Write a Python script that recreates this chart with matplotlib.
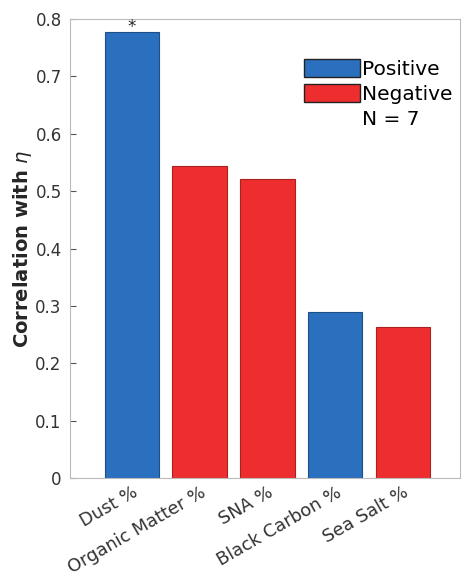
import numpy as np
import matplotlib.pyplot as plt
from matplotlib.patches import Patch

# datos de las barras
categorias = ["Dust %", "Organic Matter %", "SNA %", "Black Carbon %", "Sea Salt %"]
correlacion = [0.777, 0.544, 0.522, 0.290, 0.263]
signo = ["Positive", "Negative", "Negative", "Positive", "Negative"]
significativo = [True, False, False, False, False]

azul = "#2a70bf"
rojo = "#ee2e2e"
colores = {"Positive": azul, "Negative": rojo}

fig = plt.figure(figsize=(4.63, 5.77), dpi=100)
ax = fig.add_axes([70 / 463, 1 - 478 / 577, 390 / 463, 459 / 577])

x = np.arange(1, len(categorias) + 1)
ax.bar(x, correlacion, width=0.8,
       color=[colores[s] for s in signo],
       edgecolor=["#1d4f88" if s == "Positive" else "#a82020" for s in signo],
       linewidth=0.8, zorder=2)

for xi, yi, sig in zip(x, correlacion, significativo):
    if sig:
        ax.text(xi, yi - 0.006, "*", ha="center", va="bottom", fontsize=12, color="#222222")

ax.set_xlim(0.09, 5.84)
ax.set_ylim(0, 0.8)
ax.set_yticks(np.arange(0, 0.81, 0.1))
ax.set_yticklabels(["0"] + [f"{v:.1f}" for v in np.arange(0.1, 0.81, 0.1)])
ax.set_xticks(x)
ax.set_xticklabels(categorias, rotation=30, ha="right", rotation_mode="anchor")
ax.tick_params(axis="y", direction="in", length=4, color="#555555", labelsize=12,
               labelcolor="#333333", pad=6)
ax.tick_params(axis="x", direction="in", length=4, color="#555555", labelsize=12.8,
               labelcolor="#333333", pad=4)
for sp in ax.spines.values():
    sp.set_color("#bbbbbb")
    sp.set_linewidth(0.8)

ax.set_ylabel(r"Correlation with $\eta$", fontsize=14, fontweight="bold", color="#262626",
              labelpad=1)

handles = [Patch(facecolor=azul, edgecolor="#222222", label="Positive"),
           Patch(facecolor=rojo, edgecolor="#222222", label="Negative"),
           Patch(facecolor="none", edgecolor="none", label="N = 7")]
ax.legend(handles=handles, loc="upper left", bbox_to_anchor=(0.6, 0.912),
          frameon=False, fontsize=14.5, handlelength=2.8, handleheight=1.0,
          handletextpad=0.1, labelspacing=0.25, borderaxespad=0, borderpad=0)

fig.savefig("out.png", dpi=100)
